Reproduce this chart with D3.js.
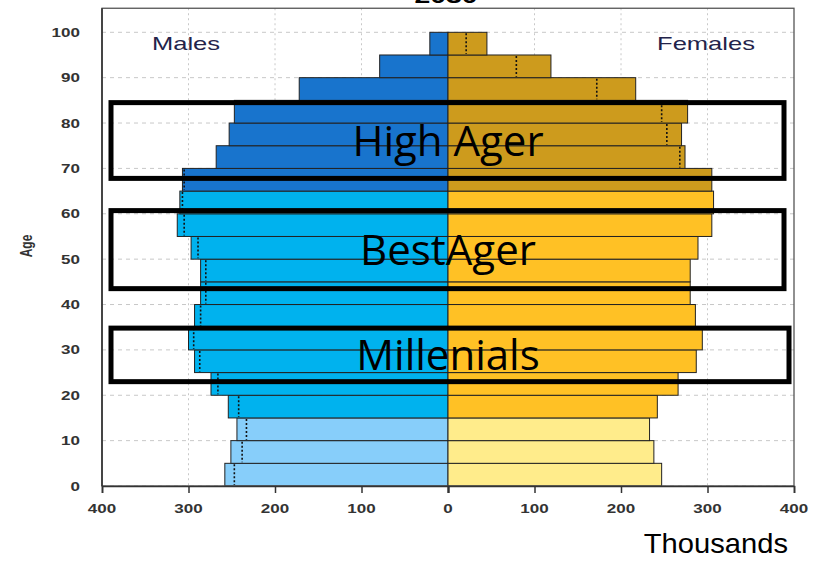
<!DOCTYPE html>
<html>
<head>
<meta charset="utf-8">
<script src="https://cdn.jsdelivr.net/npm/d3@7"></script>
<style>
  body { margin: 0; background: #fff; }
  svg { display: block; font-family: "Liberation Sans", Arial, sans-serif; }
</style>
</head>
<body>
<svg id="chart" width="827" height="561"></svg>
<script>
// population pyramid, 5 year age groups, thousands

var ageStarts = [0, 5, 10, 15, 20, 25, 30, 35, 40, 45, 50, 55, 60, 65, 70, 75, 80, 85, 90, 95]
var males   = [258, 251, 244, 254, 274, 293, 300, 293, 286, 286, 297, 313, 310, 307, 268, 253, 247, 172, 79, 21]
var females = [247, 238, 233, 242, 266, 287, 294, 286, 280, 280, 289, 305, 307, 305, 274, 270, 277, 217, 119, 45]
var xTicks = [0, 100, 200, 300, 400]
var yTicks = [0, 10, 20, 30, 40, 50, 60, 70, 80, 90, 100]

// overlay boxes: label, age from, age to
var groupNames = ['High Ager', 'BestAger', 'Millenials']
var groupFrom  = [67.8, 43.5, 23.0]
var groupTo    = [84.5, 60.7, 34.8]

var maleColors   = ['#87CEFA', '#00B2EE', '#1874CD']
var femaleColors = ['#FFEC8B', '#FFC125', '#CD9B1D']

// the plot texts look stretched sideways in the original
var stretch = 1.42

function band (age) {
  if (age < 15) return 0
  if (age < 65) return 1
  return 2
}

function wideText (parent, x, y, txt, anchor, size) {
  return parent.append('text')
    .attr('transform', 'translate(' + x + ',' + y + ') scale(' + stretch + ',1)')
    .attr('text-anchor', anchor).attr('font-size', size).text(txt)
}

var svg = d3.select('#chart')

var xL = d3.scaleLinear().domain([400, 0]).range([102, 448])
var xR = d3.scaleLinear().domain([0, 400]).range([448, 794])
var y  = d3.scaleLinear().domain([0, 100]).range([486, 32.3])
var topAge = 105.3

// grid
svg.append('g').selectAll('line').data(yTicks).enter().append('line')
  .attr('x1', 102).attr('x2', 794)
  .attr('y1', function (d) { return y(d) }).attr('y2', function (d) { return y(d) })
  .attr('stroke', '#c8c8c8').attr('stroke-dasharray', '4,4')

var grid = svg.append('g')
xTicks.slice(1, 4).forEach(function (t) {
  [xL(t), xR(t)].forEach(function (gx) {
    grid.append('line')
      .attr('x1', gx).attr('x2', gx).attr('y1', y(topAge)).attr('y2', y(0))
      .attr('stroke', '#c8c8c8').attr('stroke-dasharray', '2,3')
  })
})

// bars
var rows = ageStarts.map(function (a, i) { return {age: a, m: males[i], f: females[i]} })

var bars = svg.append('g')
bars.selectAll('rect.m').data(rows).enter().append('rect')
  .attr('x', function (d) { return xL(d.m) })
  .attr('width', function (d) { return xL(0) - xL(d.m) })
  .attr('y', function (d) { return y(d.age + 5) })
  .attr('height', function (d) { return y(d.age) - y(d.age + 5) })
  .attr('fill', function (d) { return maleColors[band(d.age)] })
  .attr('stroke', '#222').attr('stroke-width', 1)

bars.selectAll('rect.f').data(rows).enter().append('rect')
  .attr('x', xR(0))
  .attr('width', function (d) { return xR(d.f) - xR(0) })
  .attr('y', function (d) { return y(d.age + 5) })
  .attr('height', function (d) { return y(d.age) - y(d.age + 5) })
  .attr('fill', function (d) { return femaleColors[band(d.age)] })
  .attr('stroke', '#222').attr('stroke-width', 1)

// dotted marks: the other sex, shown where it falls inside the bar
var dots = svg.append('g').attr('stroke', '#111').attr('stroke-width', 1.6).attr('stroke-dasharray', '2,2')
rows.forEach(function (d) {
  if (d.f < d.m) {
    dots.append('line').attr('x1', xL(d.f)).attr('x2', xL(d.f))
      .attr('y1', y(d.age + 5) + 1).attr('y2', y(d.age) - 1)
  }
  if (d.m < d.f) {
    dots.append('line').attr('x1', xR(d.m)).attr('x2', xR(d.m))
      .attr('y1', y(d.age + 5) + 1).attr('y2', y(d.age) - 1)
  }
})

// frame
svg.append('rect')
  .attr('x', 102).attr('y', y(topAge))
  .attr('width', 794 - 102).attr('height', y(0) - y(topAge))
  .attr('fill', 'none').attr('stroke', '#555').attr('stroke-width', 1.3)
svg.append('line').attr('x1', 102).attr('x2', 102).attr('y1', y(topAge)).attr('y2', y(0))
  .attr('stroke', '#333').attr('stroke-width', 1.6)

// axes
var axL = d3.axisBottom(xL).tickValues(xTicks).tickSize(7).tickFormat('')
var axR = d3.axisBottom(xR).tickValues(xTicks).tickSize(7).tickFormat('')
;[axL, axR].forEach(function (ax) {
  var g = svg.append('g').attr('transform', 'translate(0,' + y(0) + ')').call(ax)
  g.select('.domain').attr('stroke', '#333').attr('stroke-width', 1.6)
  g.selectAll('.tick line').attr('stroke', '#333').attr('stroke-width', 1.5)
})

var labels = svg.append('g').attr('fill', '#333').attr('font-weight', 'bold')
xTicks.forEach(function (t) {
  wideText(labels, xL(t), 513, t, 'middle', 12)
  if (t > 0) wideText(labels, xR(t), 513, t, 'middle', 12)
})
yTicks.forEach(function (t) {
  wideText(labels, 80, y(t) + 4.5, t, 'end', 12)
})

svg.append('text')
  .attr('transform', 'translate(32,246) rotate(-90) scale(1,1.4)')
  .attr('text-anchor', 'middle').attr('font-size', 12).attr('font-weight', 'bold')
  .attr('fill', '#333').text('Age')

// title, cut by top of page
wideText(svg, 446, 3, '2030', 'middle', 20).attr('font-weight', 'bold')

wideText(svg, 186, 50, 'Males', 'middle', 18).attr('fill', '#23234a')
wideText(svg, 706, 50, 'Females', 'middle', 18).attr('fill', '#23234a')

svg.append('text').attr('transform', 'translate(788,553) scale(1.06,1)')
  .attr('text-anchor', 'end').attr('font-size', 27.5).attr('fill', '#000').text('Thousands')

// age group boxes
var boxRight = [784, 784, 789]
var boxes = svg.append('g')
groupNames.forEach(function (name, i) {
  boxes.append('rect')
    .attr('x', 111).attr('y', y(groupTo[i]))
    .attr('width', boxRight[i] - 111).attr('height', y(groupFrom[i]) - y(groupTo[i]))
    .attr('fill', 'none').attr('stroke', '#000').attr('stroke-width', 5)
  boxes.append('text')
    .attr('x', 448).attr('y', (y(groupFrom[i]) + y(groupTo[i])) / 2 + 15)
    .attr('text-anchor', 'middle').attr('font-size', 42)
    .attr('font-family', '"Open Sans", "Liberation Sans", sans-serif')
    .attr('fill', '#000').text(name)
})
</script>
</body>
</html>
